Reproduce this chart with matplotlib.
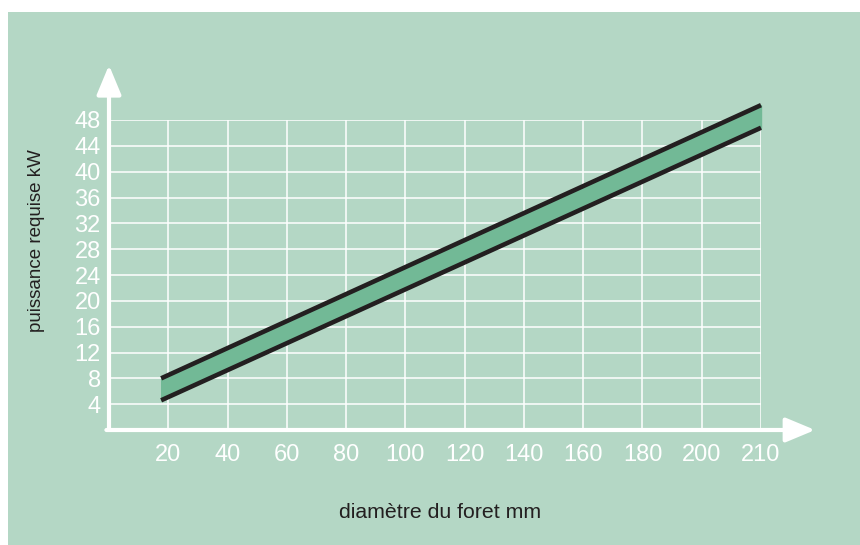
import matplotlib.pyplot as plt
from matplotlib.patches import Rectangle

plt.rcParams['font.family'] = ['Liberation Sans', 'DejaVu Sans']

# tick labels (equally spaced categories)
x_labels = ['20', '40', '60', '80', '100', '120', '140', '160', '180', '200', '210']
y_ticks = [4, 8, 12, 16, 20, 24, 28, 32, 36, 40, 44, 48]

# band ends, x in category positions (1 = "20", 11 = "210")
band_x = [0.88, 11.0]
band_low = [4.6, 46.8]
band_high = [8.0, 50.3]

bg = '#b4d7c5'
fill = '#72b996'
dark = '#231f20'

fig = plt.figure(figsize=(8.6, 5.45), dpi=100)
fig.patch.set_facecolor('white')
fig.patches.append(Rectangle((8 / 860, 0), 852 / 860, 533 / 545,
                             transform=fig.transFigure, facecolor=bg,
                             edgecolor='none', zorder=-10))

ax = fig.add_axes([109 / 860, 115 / 545, 652 / 860, 310 / 545])
ax.set_facecolor('none')
ax.set_xlim(0, 11)
ax.set_ylim(0, 48)
for s in ax.spines.values():
    s.set_visible(False)

# grid
xpos = list(range(1, len(x_labels) + 1))
ax.vlines(xpos, 0, 48, color='white', lw=1.1, zorder=1)
ax.hlines(y_ticks, 0, 11, color='white', lw=1.1, zorder=1)

# band
ax.fill_between(band_x, band_low, band_high, color=fill, zorder=2, clip_on=False)
ax.plot(band_x, band_low, color=dark, lw=3.3, solid_capstyle='butt', zorder=3, clip_on=False)
ax.plot(band_x, band_high, color=dark, lw=3.3, solid_capstyle='butt', zorder=3, clip_on=False)

# axes arrows
arrow = dict(arrowstyle='-|>,head_length=1.8,head_width=0.75',
             color='white', lw=3, shrinkA=0, shrinkB=0)
ax.annotate('', xy=(1.083, 0), xytext=(-0.004, 0), xycoords='axes fraction',
            arrowprops=arrow, annotation_clip=False)
ax.annotate('', xy=(0, 1.177), xytext=(0, 0), xycoords='axes fraction',
            arrowprops=arrow, annotation_clip=False)

ax.set_xticks(xpos)
ax.set_xticklabels(x_labels)
ax.set_yticks(y_ticks)
ax.tick_params(length=0, colors='white', labelsize=17)
ax.tick_params(axis='x', pad=10)
ax.tick_params(axis='y', pad=6)

fig.text(37 / 860, 1 - 241 / 545, 'puissance requise kW', rotation=90,
         ha='center', va='center', fontsize=13.5, color=dark)
fig.text(440 / 860, 1 - 512 / 545, 'diamètre du foret mm',
         ha='center', va='center', fontsize=15.3, color=dark)

fig.savefig('out.png', dpi=100, facecolor='white')
